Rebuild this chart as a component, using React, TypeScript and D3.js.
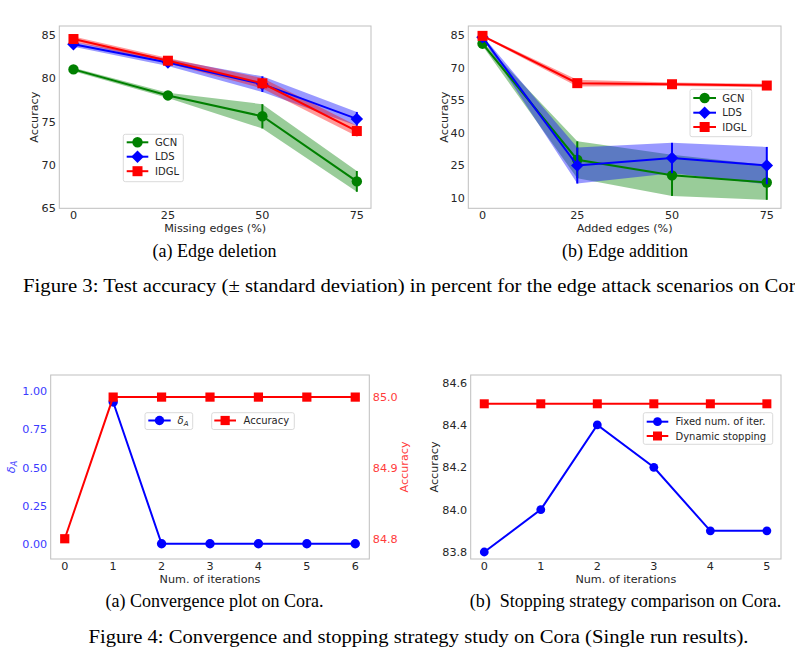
import React from 'react';
import * as d3 from 'd3';

// ---------- data ----------
const EDGE_PCT = [0, 25, 50, 75];

const DEL_GCN_MEAN = [81.0, 78.0, 75.6, 68.1];
const DEL_GCN_STD = [0.2, 0.3, 1.4, 1.2];
const DEL_LDS_MEAN = [83.9, 81.8, 79.3, 75.3];
const DEL_LDS_STD = [0.3, 0.4, 0.9, 0.8];
const DEL_IDGL_MEAN = [84.5, 82.0, 79.4, 73.9];
const DEL_IDGL_STD = [0.3, 0.3, 0.6, 0.6];

const ADD_GCN_MEAN = [81.0, 27.5, 20.3, 17.0];
const ADD_GCN_STD = [1.0, 8.5, 9.5, 8.0];
const ADD_LDS_MEAN = [84.0, 24.8, 28.3, 24.8];
const ADD_LDS_STD = [0.6, 8.3, 7.0, 8.6];
const ADD_IDGL_MEAN = [84.6, 62.8, 62.3, 61.7];
const ADD_IDGL_STD = [0.4, 1.6, 0.8, 0.8];

const DEL_Y_TICKS = [65, 70, 75, 80, 85];
const ADD_Y_TICKS = [10, 25, 40, 55, 70, 85];

const ITER_C = [0, 1, 2, 3, 4, 5, 6];
const DELTA_ITER = [1, 2, 3, 4, 5, 6];
const DELTA_A = [0.93, 0, 0, 0, 0, 0];
const CONV_ACC = [84.8, 85.0, 85.0, 85.0, 85.0, 85.0, 85.0];
const DELTA_TICKS = [0, 0.25, 0.5, 0.75, 1.0];
const CONV_ACC_TICKS = [84.8, 84.9, 85.0];

const ITER_D = [0, 1, 2, 3, 4, 5];
const FIXED_ACC = [83.8, 84.0, 84.4, 84.2, 83.9, 83.9];
const DYNAMIC_ACC = [84.5, 84.5, 84.5, 84.5, 84.5, 84.5];
const STOP_TICKS = [83.8, 84.0, 84.2, 84.4, 84.6];

// ---------- style ----------
const SANS = "'DejaVu Sans', sans-serif";
const SERIF = "'Liberation Serif', 'Times New Roman', serif";
const TXT = '#262626';
const FRAME = '#bfbfbf';
const GREEN = '#008000';
const BLUE = '#0000ff';
const RED = '#ff0000';
const TICK_FS = 11.2;
const LABEL_FS = 11.2;
const LEG_FS = 10;

type Shape = 'circle' | 'square' | 'diamond';
type Frame = { l: number; t: number; r: number; b: number };

function Marker({ shape, x, y, color, s }: { shape: Shape; x: number; y: number; color: string; s: number }) {
  if (shape === 'circle') return <circle cx={x} cy={y} r={s} fill={color} />;
  if (shape === 'square') return <rect x={x - s} y={y - s} width={2 * s} height={2 * s} fill={color} />;
  const d = s * 1.25;
  return <path d={`M${x},${y - d}L${x + d},${y}L${x},${y + d}L${x - d},${y}Z`} fill={color} />;
}

function FrameRect({ f }: { f: Frame }) {
  return <rect x={f.l} y={f.t} width={f.r - f.l} height={f.b - f.t} fill="none" stroke={FRAME} strokeWidth={1} />;
}

type Series = { name: string; color: string; shape: Shape; mean: number[]; std: number[] };

type LegendSpec = { x: number; y: number; w: number; h: number; rowY: number[]; lineX0: number; lineX1: number; textX: number };

function Legend({ spec, items }: { spec: LegendSpec; items: { label: React.ReactNode; color: string; shape: Shape; s: number }[] }) {
  return (
    <g>
      <rect x={spec.x} y={spec.y} width={spec.w} height={spec.h} rx={2} fill="white" fillOpacity={0.8} stroke="#d0d0d0" strokeWidth={0.8} />
      {items.map((it, i) => (
        <g key={i}>
          <line x1={spec.lineX0} x2={spec.lineX1} y1={spec.rowY[i]} y2={spec.rowY[i]} stroke={it.color} strokeWidth={2} />
          <Marker shape={it.shape} x={(spec.lineX0 + spec.lineX1) / 2} y={spec.rowY[i]} color={it.color} s={it.s} />
          <text x={spec.textX} y={spec.rowY[i]} dy="0.36em" fontFamily={SANS} fontSize={LEG_FS} fill={TXT}>
            {it.label}
          </text>
        </g>
      ))}
    </g>
  );
}

function EdgePanel({ f, yDomain, yTicks, xLabel, yLabelX, series, legend }: {
  f: Frame; yDomain: [number, number]; yTicks: number[]; xLabel: string; yLabelX: number; series: Series[]; legend: LegendSpec;
}) {
  const x = d3.scaleLinear().domain([-3.75, 78.75]).range([f.l, f.r]);
  const y = d3.scaleLinear().domain(yDomain).range([f.b, f.t]);
  const area = (s: Series) =>
    d3.area<number>()
      .x((_, i) => x(EDGE_PCT[i]))
      .y0((m, i) => y(m - s.std[i]))
      .y1((m, i) => y(m + s.std[i]))(s.mean) || '';
  const line = d3.line<number>().x((_, i) => x(EDGE_PCT[i])).y((m) => y(m));
  const sizeOf = (sh: Shape) => (sh === 'circle' ? 5.2 : sh === 'square' ? 5 : 5);
  return (
    <g>
      <rect x={f.l} y={f.t} width={f.r - f.l} height={f.b - f.t} fill="white" />
      {series.map((s) => (
        <path key={s.name + 'band'} d={area(s)} fill={s.color} fillOpacity={0.4} />
      ))}
      {series.map((s) => (
        <g key={s.name}>
          <path d={line(s.mean) || ''} fill="none" stroke={s.color} strokeWidth={2} />
          {s.mean.map((m, i) => (
            <line key={'e' + i} x1={x(EDGE_PCT[i])} x2={x(EDGE_PCT[i])} y1={y(m - s.std[i])} y2={y(m + s.std[i])} stroke={s.color} strokeWidth={2} />
          ))}
          {s.mean.map((m, i) => (
            <Marker key={'m' + i} shape={s.shape} x={x(EDGE_PCT[i])} y={y(m)} color={s.color} s={sizeOf(s.shape)} />
          ))}
        </g>
      ))}
      <FrameRect f={f} />
      {yTicks.map((t) => (
        <text key={t} x={f.l - 3.5} y={y(t)} dy="0.36em" textAnchor="end" fontFamily={SANS} fontSize={TICK_FS} fill={TXT}>{t}</text>
      ))}
      {EDGE_PCT.map((t) => (
        <text key={t} x={x(t)} y={f.b + 10.6} textAnchor="middle" fontFamily={SANS} fontSize={TICK_FS} fill={TXT}>{t}</text>
      ))}
      <text x={(f.l + f.r) / 2} y={f.b + 23.8} textAnchor="middle" fontFamily={SANS} fontSize={LABEL_FS} fill={TXT}>{xLabel}</text>
      <text transform={`translate(${yLabelX},${(f.t + f.b) / 2}) rotate(-90)`} textAnchor="middle" fontFamily={SANS} fontSize={LABEL_FS} fill={TXT}>Accuracy</text>
      <Legend spec={legend} items={series.map((s) => ({ label: s.name, color: s.color, shape: s.shape, s: sizeOf(s.shape) }))} />
    </g>
  );
}

function DeltaLabel({ sub }: { sub: number }) {
  return (
    <>
      <tspan fontStyle="italic">δ</tspan>
      <tspan fontStyle="italic" fontSize={sub} dy="0.25em">A</tspan>
    </>
  );
}

function ConvPanel() {
  const f: Frame = { l: 50.7, t: 375, r: 369.3, b: 559 };
  const x = d3.scaleLinear().domain([-0.29, 6.29]).range([f.l, f.r]);
  const yL = d3.scaleLinear().domain([-0.1004, 1.107]).range([f.b, f.t]);
  const yR = d3.scaleLinear().domain([84.7714, 85.0312]).range([f.b, f.t]);
  const lineL = d3.line<number>().x((_, i) => x(DELTA_ITER[i])).y((v) => yL(v));
  const lineR = d3.line<number>().x((_, i) => x(ITER_C[i])).y((v) => yR(v));
  const LBLUE = '#3b3bff';
  const LRED = '#ff3b3b';
  return (
    <g>
      <rect x={f.l} y={f.t} width={f.r - f.l} height={f.b - f.t} fill="white" />
      <path d={lineL(DELTA_A) || ''} fill="none" stroke={BLUE} strokeWidth={2} />
      {DELTA_A.map((v, i) => <Marker key={i} shape="circle" x={x(DELTA_ITER[i])} y={yL(v)} color={BLUE} s={4.7} />)}
      <path d={lineR(CONV_ACC) || ''} fill="none" stroke={RED} strokeWidth={2} />
      {CONV_ACC.map((v, i) => <Marker key={i} shape="square" x={x(ITER_C[i])} y={yR(v)} color={RED} s={4.6} />)}
      <FrameRect f={f} />
      {DELTA_TICKS.map((t) => (
        <text key={t} x={f.l - 3.5} y={yL(t)} dy="0.36em" textAnchor="end" fontFamily={SANS} fontSize={TICK_FS} fill={LBLUE}>{t.toFixed(2)}</text>
      ))}
      {CONV_ACC_TICKS.map((t) => (
        <text key={t} x={f.r + 3.5} y={yR(t)} dy="0.36em" textAnchor="start" fontFamily={SANS} fontSize={TICK_FS} fill={LRED}>{t.toFixed(1)}</text>
      ))}
      {ITER_C.map((t) => (
        <text key={t} x={x(t)} y={f.b + 11} textAnchor="middle" fontFamily={SANS} fontSize={TICK_FS} fill={TXT}>{t}</text>
      ))}
      <text x={(f.l + f.r) / 2} y={f.b + 24} textAnchor="middle" fontFamily={SANS} fontSize={LABEL_FS} fill={TXT}>Num. of iterations</text>
      <text transform={`translate(${14.5},${(f.t + f.b) / 2}) rotate(-90)`} textAnchor="middle" fontFamily={SANS} fontSize={LABEL_FS} fill={LBLUE}>
        <DeltaLabel sub={8} />
      </text>
      <text transform={`translate(${407.5},${(f.t + f.b) / 2}) rotate(-90)`} textAnchor="middle" fontFamily={SANS} fontSize={LABEL_FS} fill={LRED}>Accuracy</text>
      <Legend
        spec={{ x: 145, y: 412.7, w: 47.7, h: 16.8, rowY: [420.5], lineX0: 148.3, lineX1: 170.7, textX: 177.5 }}
        items={[{ label: <DeltaLabel sub={7} />, color: BLUE, shape: 'circle', s: 4.7 }]}
      />
      <Legend
        spec={{ x: 211.7, y: 412.7, w: 82.6, h: 16.8, rowY: [420.5], lineX0: 214.3, lineX1: 236, textX: 243.5 }}
        items={[{ label: 'Accuracy', color: RED, shape: 'square', s: 4.6 }]}
      />
    </g>
  );
}

function StopPanel() {
  const f: Frame = { l: 470.7, t: 375, r: 781, b: 559 };
  const x = d3.scaleLinear().domain([-0.24, 5.25]).range([f.l, f.r]);
  const y = d3.scaleLinear().domain([83.767, 84.636]).range([f.b, f.t]);
  const line = d3.line<number>().x((_, i) => x(ITER_D[i])).y((v) => y(v));
  return (
    <g>
      <rect x={f.l} y={f.t} width={f.r - f.l} height={f.b - f.t} fill="white" />
      <path d={line(FIXED_ACC) || ''} fill="none" stroke={BLUE} strokeWidth={2} />
      {FIXED_ACC.map((v, i) => <Marker key={i} shape="circle" x={x(ITER_D[i])} y={y(v)} color={BLUE} s={4.4} />)}
      <path d={line(DYNAMIC_ACC) || ''} fill="none" stroke={RED} strokeWidth={2} />
      {DYNAMIC_ACC.map((v, i) => <Marker key={i} shape="square" x={x(ITER_D[i])} y={y(v)} color={RED} s={4.5} />)}
      <FrameRect f={f} />
      {STOP_TICKS.map((t) => (
        <text key={t} x={f.l - 3.5} y={y(t)} dy="0.36em" textAnchor="end" fontFamily={SANS} fontSize={TICK_FS} fill={TXT}>{t.toFixed(1)}</text>
      ))}
      {ITER_D.map((t) => (
        <text key={t} x={x(t)} y={f.b + 11} textAnchor="middle" fontFamily={SANS} fontSize={TICK_FS} fill={TXT}>{t}</text>
      ))}
      <text x={(f.l + f.r) / 2} y={f.b + 24} textAnchor="middle" fontFamily={SANS} fontSize={LABEL_FS} fill={TXT}>Num. of iterations</text>
      <text transform={`translate(${437.5},${(f.t + f.b) / 2}) rotate(-90)`} textAnchor="middle" fontFamily={SANS} fontSize={LABEL_FS} fill={TXT}>Accuracy</text>
      <Legend
        spec={{ x: 643.3, y: 412.7, w: 129.4, h: 31.6, rowY: [421.7, 436], lineX0: 646.7, lineX1: 668.3, textX: 675.5 }}
        items={[
          { label: 'Fixed num. of iter.', color: BLUE, shape: 'circle', s: 4.4 },
          { label: 'Dynamic stopping', color: RED, shape: 'square', s: 4.5 },
        ]}
      />
    </g>
  );
}

function Caption({ x, y, text, anchor = 'start', size = 18, len }: { x: number; y: number; text: string; anchor?: string; size?: number; len?: number }) {
  return (
    <text x={x} y={y} fontFamily={SERIF} fontSize={size} fill="#000" textAnchor={anchor} textLength={len} lengthAdjust={len ? 'spacingAndGlyphs' : undefined} style={{ whiteSpace: 'pre' }}>
      {text}
    </text>
  );
}

export default function App() {
  const delSeries: Series[] = [
    { name: 'GCN', color: GREEN, shape: 'circle', mean: DEL_GCN_MEAN, std: DEL_GCN_STD },
    { name: 'LDS', color: BLUE, shape: 'diamond', mean: DEL_LDS_MEAN, std: DEL_LDS_STD },
    { name: 'IDGL', color: RED, shape: 'square', mean: DEL_IDGL_MEAN, std: DEL_IDGL_STD },
  ];
  const addSeries: Series[] = [
    { name: 'GCN', color: GREEN, shape: 'circle', mean: ADD_GCN_MEAN, std: ADD_GCN_STD },
    { name: 'LDS', color: BLUE, shape: 'diamond', mean: ADD_LDS_MEAN, std: ADD_LDS_STD },
    { name: 'IDGL', color: RED, shape: 'square', mean: ADD_IDGL_MEAN, std: ADD_IDGL_STD },
  ];
  return (
    <svg width={795} height={659} style={{ position: 'absolute', left: 0, top: 0, background: 'white' }}>
      <rect width={795} height={659} fill="white" />
      <EdgePanel
        f={{ l: 59.3, t: 26, r: 371, b: 208.3 }}
        yDomain={[65, 86]}
        yTicks={DEL_Y_TICKS}
        xLabel="Missing edges (%)"
        yLabelX={38}
        series={delSeries}
        legend={{ x: 123.3, y: 134.3, w: 60, h: 47.4, rowY: [142.3, 156.7, 171.2], lineX0: 126.7, lineX1: 148.3, textX: 155 }}
      />
      <EdgePanel
        f={{ l: 468.3, t: 26, r: 781, b: 208.3 }}
        yDomain={[5.1, 89.15]}
        yTicks={ADD_Y_TICKS}
        xLabel="Added edges (%)"
        yLabelX={447.5}
        series={addSeries}
        legend={{ x: 690, y: 89.3, w: 61.7, h: 47.4, rowY: [98, 112.7, 127], lineX0: 693.3, lineX1: 716, textX: 722.3 }}
      />
      <Caption x={214.5} y={257.3} text="(a) Edge deletion" anchor="middle" />
      <Caption x={625} y={257.3} text="(b) Edge addition" anchor="middle" />
      <Caption x={23} y={291.5} size={19} len={787} text="Figure 3: Test accuracy (± standard deviation) in percent for the edge attack scenarios on Cora." />
      <ConvPanel />
      <StopPanel />
      <Caption x={214.5} y={606.7} text="(a) Convergence plot on Cora." anchor="middle" />
      <Caption x={625.5} y={606.7} text={'(b)  Stopping strategy comparison on Cora.'} anchor="middle" />
      <Caption x={88.5} y={643.3} size={19} len={660} text="Figure 4: Convergence and stopping strategy study on Cora (Single run results)." />
    </svg>
  );
}
